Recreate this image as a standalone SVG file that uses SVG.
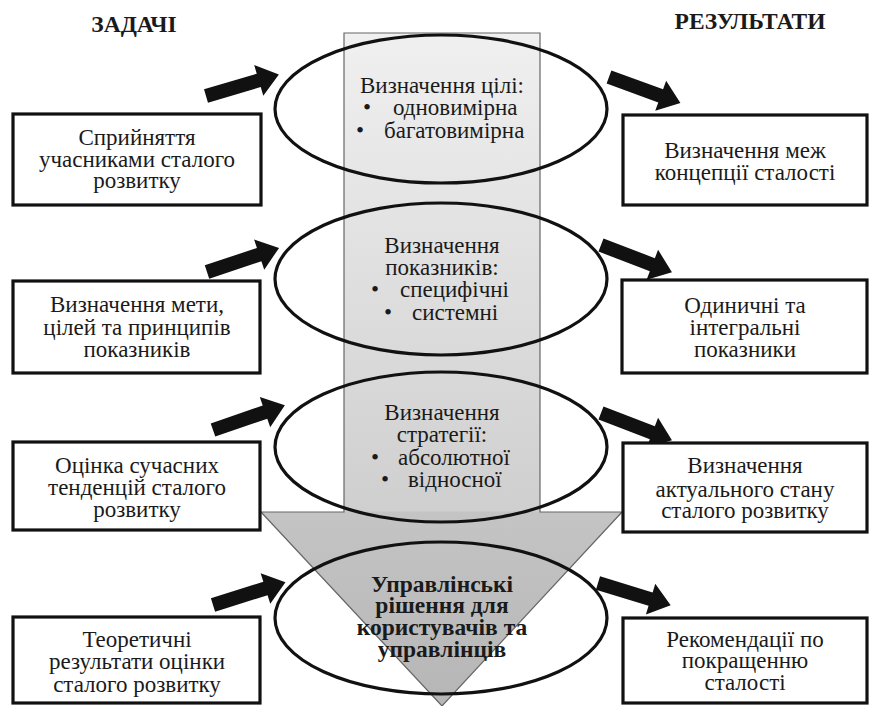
<svg xmlns="http://www.w3.org/2000/svg" width="869" height="706" viewBox="0 0 869 706">
<style>
.box{fill:#fff;stroke:#111;stroke-width:3.2}
.ell{fill:none;stroke:#111;stroke-width:3.2}
.t{font-family:"Liberation Serif","Times New Roman",serif;font-size:23px;fill:#1a1a1a;text-anchor:middle}
.b{font-family:"Liberation Serif","Times New Roman",serif;font-size:23px;fill:#1a1a1a}
.h{font-family:"Liberation Serif","Times New Roman",serif;font-size:23.5px;font-weight:bold;fill:#1a1a1a;text-anchor:middle}
.arr{fill:#111}
</style>
<defs>
<linearGradient id="g" gradientUnits="userSpaceOnUse" x1="0" y1="33" x2="0" y2="706">
<stop offset="0" stop-color="#f0f0f0"/>
<stop offset="0.71" stop-color="#cfcfcf"/>
<stop offset="0.712" stop-color="#c4c4c4"/>
<stop offset="1" stop-color="#b6b6b6"/>
</linearGradient>
<path id="ah" d="M0,-7 H55 V-16 L76,0 L55,16 V7 H0 Z"/>
</defs>
<rect width="869" height="706" fill="#fff"/>

<g id="bigarrow">
<path d="M344,33 H540 V512 H622 L442,706 L261,512 H344 Z" fill="url(#g)" stroke="#666" stroke-width="1.2"/>
</g>

<g id="headers">
<text class="h" x="134" y="32">ЗАДАЧІ</text>
<text class="h" x="750" y="29">РЕЗУЛЬТАТИ</text>
</g>

<g id="connectors">
<use href="#ah" class="arr" transform="translate(206,96) rotate(-16.5)"/>
<use href="#ah" class="arr" transform="translate(207,272) rotate(-18.5)"/>
<use href="#ah" class="arr" transform="translate(213,430) rotate(-19)"/>
<use href="#ah" class="arr" transform="translate(213,605) rotate(-17.5)"/>
<use href="#ah" class="arr" transform="translate(609,77) rotate(20)"/>
<use href="#ah" class="arr" transform="translate(601,245) rotate(21)"/>
<use href="#ah" class="arr" transform="translate(601,413) rotate(21)"/>
<use href="#ah" class="arr" transform="translate(598,583) rotate(17)"/>
</g>

<g id="e1">
<ellipse class="ell" cx="441" cy="109" rx="166" ry="74"/>
<text class="t" x="442" y="93">Визначення цілі:</text>
<text class="b" y="115"><tspan x="363">•</tspan><tspan x="393">одновимірна</tspan></text>
<text class="b" y="138"><tspan x="356">•</tspan><tspan x="384">багатовимірна</tspan></text>
</g>
<g id="e2">
<ellipse class="ell" cx="441" cy="279" rx="166" ry="76"/>
<text class="t" x="442" y="253">Визначення</text>
<text class="t" x="442" y="275">показників:</text>
<text class="b" y="297"><tspan x="371">•</tspan><tspan x="400">специфічні</tspan></text>
<text class="b" y="320"><tspan x="384">•</tspan><tspan x="412">системні</tspan></text>
</g>
<g id="e3">
<ellipse class="ell" cx="441" cy="447" rx="166" ry="75"/>
<text class="t" x="442" y="420">Визначення</text>
<text class="t" x="442" y="442">стратегії:</text>
<text class="b" y="465"><tspan x="371">•</tspan><tspan x="398">абсолютної</tspan></text>
<text class="b" y="487"><tspan x="381">•</tspan><tspan x="408">відносної</tspan></text>
</g>
<g id="e4">
<ellipse class="ell" cx="441" cy="618" rx="166" ry="76"/>
<text class="h" x="442" y="592">Управлінські</text>
<text class="h" x="442" y="613">рішення для</text>
<text class="h" x="442" y="635">користувачів та</text>
<text class="h" x="442" y="657">управлінців</text>
</g>

<g id="l1">
<rect class="box" x="13" y="114" width="248" height="91"/>
<text class="t" x="137" y="145">Сприйняття</text>
<text class="t" x="137" y="167">учасниками сталого</text>
<text class="t" x="137" y="188">розвитку</text>
</g>
<g id="l2">
<rect class="box" x="13" y="281" width="247" height="92"/>
<text class="t" x="137" y="312">Визначення мети,</text>
<text class="t" x="137" y="335">цілей та принципів</text>
<text class="t" x="137" y="357">показників</text>
</g>
<g id="l3">
<rect class="box" x="13" y="442" width="247" height="88"/>
<text class="t" x="137" y="473">Оцінка сучасних</text>
<text class="t" x="137" y="495">тенденцій сталого</text>
<text class="t" x="137" y="517">розвитку</text>
</g>
<g id="l4">
<rect class="box" x="13" y="617" width="247" height="86"/>
<text class="t" x="137" y="647">Теоретичні</text>
<text class="t" x="137" y="669">результати оцінки</text>
<text class="t" x="137" y="692">сталого розвитку</text>
</g>

<g id="r1">
<rect class="box" x="623" y="115" width="244" height="90"/>
<text class="t" x="745" y="158">Визначення меж</text>
<text class="t" x="745" y="180">концепції сталості</text>
</g>
<g id="r2">
<rect class="box" x="622" y="280" width="245" height="93"/>
<text class="t" x="745" y="313">Одиничні та</text>
<text class="t" x="745" y="335">інтегральні</text>
<text class="t" x="745" y="357">показники</text>
</g>
<g id="r3">
<rect class="box" x="623" y="443" width="244" height="89"/>
<text class="t" x="745" y="473">Визначення</text>
<text class="t" x="745" y="497">актуального стану</text>
<text class="t" x="745" y="518">сталого розвитку</text>
</g>
<g id="r4">
<rect class="box" x="623" y="618" width="244" height="85"/>
<text class="t" x="745" y="647">Рекомендації по</text>
<text class="t" x="745" y="668">покращенню</text>
<text class="t" x="745" y="690">сталості</text>
</g>
</svg>
